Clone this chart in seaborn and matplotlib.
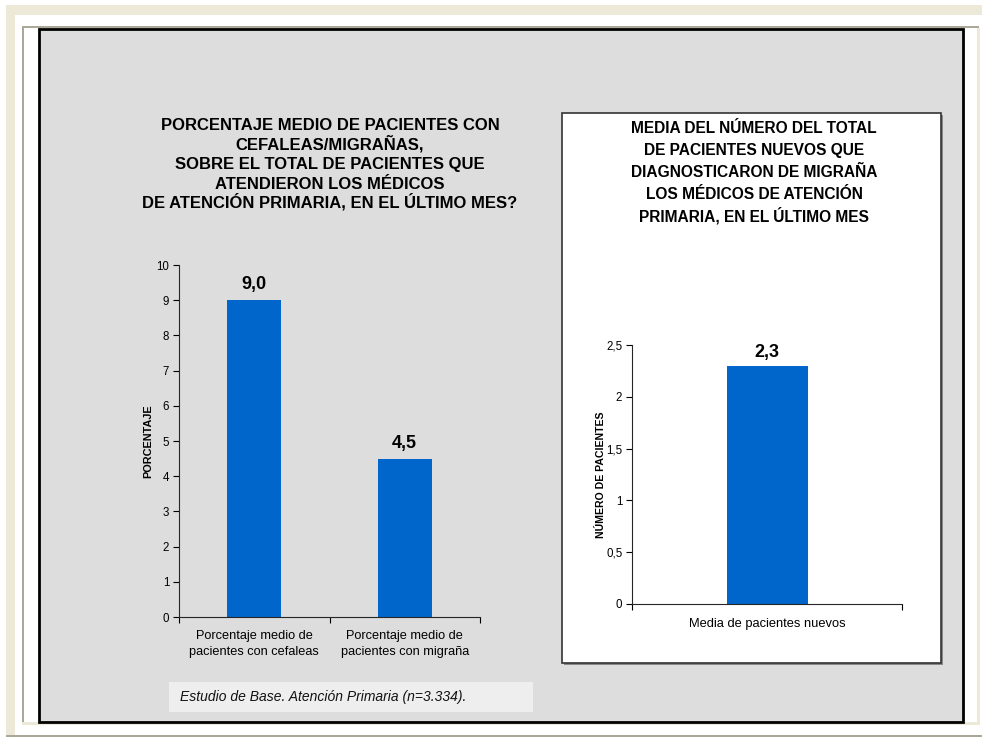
import seaborn as sns
import pandas as pd
import numpy as np
import matplotlib.pyplot as plt
from matplotlib.patches import Rectangle
from matplotlib.ticker import FuncFormatter

# data
cats_left = ["Porcentaje medio de\npacientes con cefaleas", "Porcentaje medio de\npacientes con migraña"]
vals_left = [9.0, 4.5]
cats_right = ["Media de pacientes nuevos"]
vals_right = [2.3]

title_left = ["PORCENTAJE MEDIO DE PACIENTES CON", "CEFALEAS/MIGRAÑAS,",
              "SOBRE EL TOTAL DE PACIENTES QUE", "ATENDIERON LOS MÉDICOS",
              "DE ATENCIÓN PRIMARIA, EN EL ÚLTIMO MES?"]
title_right = ["MEDIA DEL NÚMERO DEL TOTAL", "DE PACIENTES NUEVOS QUE",
               "DIAGNOSTICARON DE MIGRAÑA", "LOS MÉDICOS DE ATENCIÓN",
               "PRIMARIA, EN EL ÚLTIMO MES"]
footnote = "Estudio de Base. Atención Primaria (n=3.334)."

sns.set_style("ticks")
plt.rcParams['font.family'] = ['Liberation Sans', 'DejaVu Sans']
plt.rcParams['text.color'] = "black"
plt.rcParams['axes.labelcolor'] = "black"

W, H = 982, 737
fig = plt.figure(figsize=(W / 100, H / 100), dpi=100)
fig.patch.set_facecolor("white")

BLUE = "#0066CC"
BEIGE = "#ECE9D8"
GRAYLINE = "#ACA899"


def rect(x0, y0, x1, y1, **kw):
    r = Rectangle((x0 / W, 1 - y1 / H), (x1 - x0) / W, (y1 - y0) / H,
                  transform=fig.transFigure, zorder=kw.pop("zorder", -5), **kw)
    fig.add_artist(r)


def axrect(x0, y0, x1, y1):
    return fig.add_axes([x0 / W, 1 - y1 / H, (x1 - x0) / W, (y1 - y0) / H])


# page frame
rect(6, 5, 982, 15, facecolor=BEIGE, edgecolor="none")
rect(6, 5, 15, 737, facecolor=BEIGE, edgecolor="none")
rect(22, 26, 979, 28, facecolor=GRAYLINE, edgecolor="none")
rect(22, 26, 24, 722, facecolor=GRAYLINE, edgecolor="none")
rect(22, 722, 980, 725, facecolor=BEIGE, edgecolor="none")
rect(977, 28, 980, 725, facecolor=BEIGE, edgecolor="none")
rect(6, 735, 982, 737, facecolor=GRAYLINE, edgecolor="none")
# slide panel
rect(39, 29, 963, 722, facecolor="#DDDDDD", edgecolor="black", linewidth=2, zorder=-4)
# right chart white box
rect(564, 115, 943, 665, facecolor="#888888", edgecolor="none", zorder=-3)
rect(562, 113, 941, 663, facecolor="white", edgecolor="#333333", linewidth=1.2, zorder=-2)
# footnote box
rect(169, 682, 533, 712, facecolor="#EEEEEE", edgecolor="none", zorder=-2)


def fmt(v, pos):
    return ("%g" % v).replace(".", ",")


def style_axis(ax, ncat):
    ax.set_facecolor("none")
    sns.despine(ax=ax, top=True, right=True)
    ax.spines["left"].set_linewidth(0.8)
    ax.spines["bottom"].set_linewidth(0.8)
    ax.set_xlim(-0.5, ncat - 0.5)
    ax.set_xticks(np.arange(-0.5, ncat, 1.0))
    ax.set_xticklabels([""] * (ncat + 1))
    ax.tick_params(axis="x", which="major", length=4, width=0.8, direction="out")
    ax.tick_params(axis="y", length=4, width=0.8, labelsize=8.3, colors="black", pad=3)
    ax.tick_params(axis="x", which="both", colors="black")
    ax.yaxis.set_major_formatter(FuncFormatter(fmt))
    ax.set_xlabel("")


# left chart
ax1 = axrect(179, 265, 480, 617)
df_left = pd.DataFrame({"cat": cats_left, "val": vals_left})
sns.barplot(data=df_left, x="cat", y="val", color=BLUE, saturation=1, width=0.36,
            linewidth=0, ax=ax1)
style_axis(ax1, len(cats_left))
ax1.set_ylim(0, 10)
ax1.set_yticks(range(0, 11))
ax1.set_xticks(range(len(cats_left)), minor=True)
ax1.set_xticklabels(cats_left, minor=True, fontsize=9.2, linespacing=1.45)
ax1.tick_params(axis="x", which="minor", length=0, pad=9)
ax1.set_ylabel("PORCENTAJE", fontsize=7.8, fontweight="bold", labelpad=2)
for i, v in enumerate(vals_left):
    ax1.text(i, v + 0.2, ("%.1f" % v).replace(".", ","), ha="center", va="bottom",
             fontsize=13, fontweight="bold")

# right chart
ax2 = axrect(632, 345, 902, 604)
df_right = pd.DataFrame({"cat": cats_right, "val": vals_right})
sns.barplot(data=df_right, x="cat", y="val", color=BLUE, saturation=1, width=0.30,
            linewidth=0, ax=ax2)
style_axis(ax2, len(cats_right))
ax2.set_ylim(0, 2.5)
ax2.set_yticks(np.arange(0, 2.51, 0.5))
ax2.set_xticks(range(len(cats_right)), minor=True)
ax2.set_xticklabels(cats_right, minor=True, fontsize=9.3)
ax2.tick_params(axis="x", which="minor", length=0, pad=10)
ax2.set_ylabel("NÚMERO DE PACIENTES", fontsize=7.6, fontweight="bold", labelpad=0)
for i, v in enumerate(vals_right):
    ax2.text(i, v + 0.05, ("%.1f" % v).replace(".", ","), ha="center", va="bottom",
             fontsize=13, fontweight="bold")

# titles, one line at a time so accents do not move the spacing
for line, yb in zip(title_left, [130, 150, 169, 189, 207]):
    fig.text(330 / W, 1 - yb / H, line, ha="center", va="baseline", fontsize=12,
             fontweight="bold")
for line, yb in zip(title_right, [133, 155, 177, 199, 221]):
    fig.text(754 / W, 1 - yb / H, line, ha="center", va="baseline", fontsize=11.2,
             fontweight="bold")
fig.text(180 / W, 1 - 697 / H, footnote, ha="left", va="center", fontsize=10,
         style="italic", color="#111111")

plt.savefig("out.png", dpi=100)
